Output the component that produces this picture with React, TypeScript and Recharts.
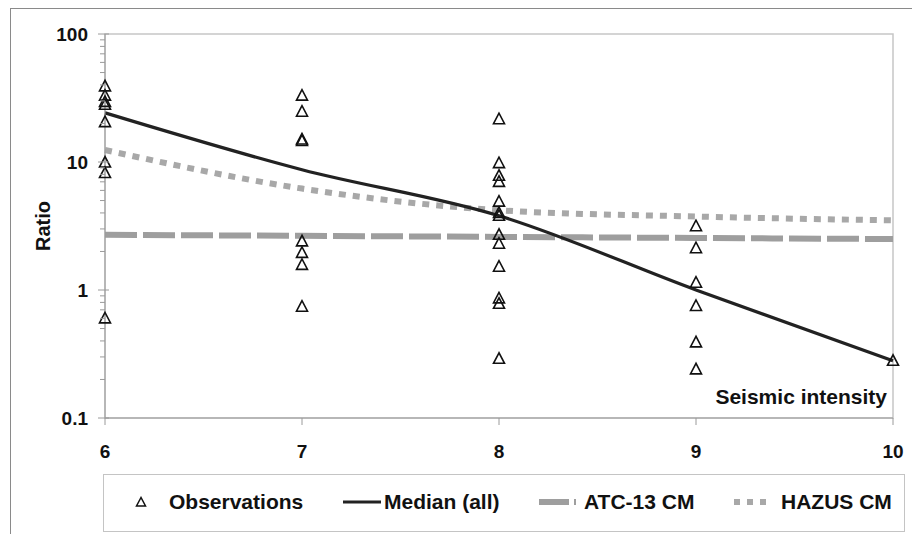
import React from "react"
import { ComposedChart, Line, Scatter, XAxis, YAxis, ReferenceArea, Label } from "recharts"

const INTENSITY = [6, 7, 8, 9, 10]
const MEDIAN_ALL = [24.2, 8.7, 3.8, 1.0, 0.28]
const ATC13_CM = [2.7, 2.65, 2.6, 2.55, 2.5]
const HAZUS_CM = [12.4, 6.2, 4.2, 3.75, 3.5]

// observed ratios, one list per seismic intensity
const OBS_6 = [39, 33, 29.5, 28, 20.5, 9.9, 8.2, 0.6]
const OBS_7 = [33, 24.7, 15, 14.6, 2.4, 1.95, 1.57, 0.74]
const OBS_8 = [21.6, 9.8, 7.8, 7.0, 4.9, 4.0, 3.8, 2.7, 2.3, 1.52, 0.86, 0.78, 0.29]
const OBS_9 = [3.15, 2.12, 1.14, 0.75, 0.39, 0.24]
const OBS_10 = [0.28]

const X_TICKS = [6, 7, 8, 9, 10]
const Y_MAJOR = [0.1, 1, 10, 100]
const Y_MINOR = [0.2, 0.3, 0.4, 0.5, 0.6, 0.7, 0.8, 0.9, 2, 3, 4, 5, 6, 7, 8, 9, 20, 30, 40, 50, 60, 70, 80, 90]

const FONT = "'Liberation Sans', Arial, sans-serif"
const AXIS_GRAY = "#9a9a9a"
const Y_TICK_MARGIN = 17

const lineData = INTENSITY.map((x, i) => ({
  x,
  median: MEDIAN_ALL[i],
  atc: ATC13_CM[i],
  hazus: HAZUS_CM[i],
}))

const obsData = [
  ...OBS_6.map((y) => ({ x: 6, y })),
  ...OBS_7.map((y) => ({ x: 7, y })),
  ...OBS_8.map((y) => ({ x: 8, y })),
  ...OBS_9.map((y) => ({ x: 9, y })),
  ...OBS_10.map((y) => ({ x: 10, y })),
]

const Triangle = (props: any) => {
  const { cx, cy } = props
  return (
    <polygon
      points={`${cx},${cy - 6} ${cx - 5.5},${cy + 4.5} ${cx + 5.5},${cy + 4.5}`}
      fill="none"
      stroke="#111"
      strokeWidth={1.6}
    />
  )
}

const YTick = (props: any) => {
  const { x, y, payload } = props
  const axisX = x + Y_TICK_MARGIN
  const major = Y_MAJOR.includes(payload.value)
  return (
    <g>
      <line x1={axisX - (major ? 7 : 5)} x2={axisX + (major ? 4 : 0)} y1={y} y2={y} stroke={AXIS_GRAY} />
      {major && (
        <text x={x} y={y} dy="0.36em" textAnchor="end" fontSize={19} fontWeight="bold" fill="#111">
          {payload.value}
        </text>
      )}
    </g>
  )
}

const legendText: React.CSSProperties = {
  position: "absolute",
  top: 14,
  fontSize: 21,
  fontWeight: "bold",
  color: "#111",
  lineHeight: "26px",
  whiteSpace: "nowrap",
}

const ChartLegend = () => (
  <div
    style={{
      position: "absolute",
      left: 103,
      top: 474,
      width: 800,
      height: 56,
      border: "1.5px solid #c4c4c4",
      fontFamily: FONT,
    }}
  >
    <svg style={{ position: "absolute", left: 31, top: 21 }} width={12} height={12}>
      <polygon points="6,1.5 1.5,10 10.5,10" fill="none" stroke="#111" strokeWidth={1.5} />
    </svg>
    <span style={{ ...legendText, left: 65 }}>Observations</span>
    <svg style={{ position: "absolute", left: 239, top: 24 }} width={40} height={6}>
      <line x1={0} x2={38} y1={3} y2={3} stroke="#222" strokeWidth={3} />
    </svg>
    <span style={{ ...legendText, left: 280 }}>Median (all)</span>
    <svg style={{ position: "absolute", left: 435, top: 23 }} width={40} height={8}>
      <line x1={0} x2={30} y1={4} y2={4} stroke="#9e9e9e" strokeWidth={6} />
      <line x1={35} x2={37} y1={4} y2={4} stroke="#9e9e9e" strokeWidth={6} />
    </svg>
    <span style={{ ...legendText, left: 480 }}>ATC-13 CM</span>
    <svg style={{ position: "absolute", left: 630, top: 23 }} width={40} height={8}>
      <line x1={0} x2={36} y1={4} y2={4} stroke="#a8a8a8" strokeWidth={6} strokeDasharray="6 7" />
    </svg>
    <span style={{ ...legendText, left: 677 }}>HAZUS CM</span>
  </div>
)

export default function App() {
  return (
    <div style={{ position: "absolute", left: 0, top: 0, width: 912, height: 534, overflow: "hidden", background: "#fff" }}>
      <div
        style={{
          position: "absolute",
          left: 10,
          top: 8,
          width: 920,
          height: 540,
          borderTop: "1.5px solid #8a8a8a",
          borderLeft: "1.5px solid #8a8a8a",
        }}
      />
      <div style={{ position: "absolute", left: 0, top: 0 }}>
        <ComposedChart
          width={912}
          height={534}
          margin={{ top: 34, right: 19, left: 10, bottom: 76 }}
          style={{ fontFamily: FONT }}
        >
          <ReferenceArea x1={6} x2={10} y1={0.1} y2={100} fill="none" stroke="#c6c6c6" strokeWidth={1.5} />
          <XAxis
            type="number"
            dataKey="x"
            domain={[6, 10]}
            ticks={X_TICKS}
            height={40}
            tickSize={7}
            tickMargin={20}
            stroke={AXIS_GRAY}
            tick={{ fill: "#111", fontSize: 19, fontWeight: "bold" }}
          >
            <Label
              content={() => (
                <text x={887} y={404} textAnchor="end" fontSize={21} fontWeight="bold" fill="#111">
                  Seismic intensity
                </text>
              )}
            />
          </XAxis>
          <YAxis
            type="number"
            dataKey="y"
            scale="log"
            domain={[0.1, 100]}
            ticks={[...Y_MAJOR, ...Y_MINOR]}
            interval={0}
            width={95}
            tickSize={0}
            tickMargin={Y_TICK_MARGIN}
            tickLine={false}
            stroke={AXIS_GRAY}
            tick={<YTick />}
          >
            <Label
              content={() => (
                <text
                  x={50}
                  y={226}
                  transform="rotate(-90 50 226)"
                  textAnchor="middle"
                  fontSize={20}
                  fontWeight="bold"
                  fill="#111"
                >
                  Ratio
                </text>
              )}
            />
          </YAxis>
          <Line
            data={lineData}
            dataKey="atc"
            type="monotone"
            stroke="#9e9e9e"
            strokeWidth={6}
            strokeDasharray="32 6"
            dot={false}
            isAnimationActive={false}
          />
          <Line
            data={lineData}
            dataKey="hazus"
            type="monotone"
            stroke="#a8a8a8"
            strokeWidth={6}
            strokeDasharray="7 7"
            dot={false}
            isAnimationActive={false}
          />
          <Line
            data={lineData}
            dataKey="median"
            type="monotone"
            stroke="#222"
            strokeWidth={3.2}
            dot={false}
            isAnimationActive={false}
          />
          <Scatter data={obsData} shape={<Triangle />} isAnimationActive={false} />
        </ComposedChart>
      </div>
      <ChartLegend />
    </div>
  )
}
